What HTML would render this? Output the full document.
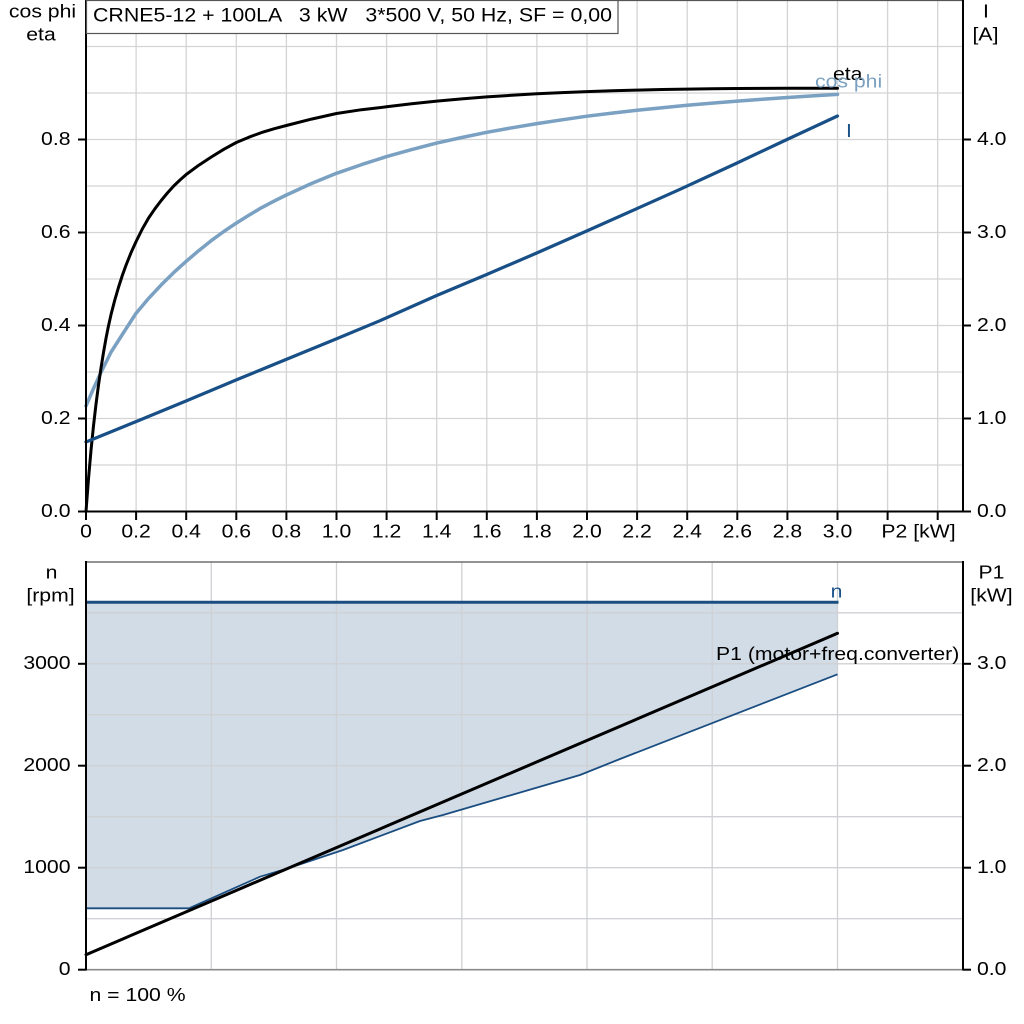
<!DOCTYPE html>
<html>
<head>
<meta charset="utf-8">
<style>
  html,body{margin:0;padding:0;background:#fff;}
  svg{display:block;}
  text{font-family:"Liberation Sans",Arial,sans-serif;font-size:18.6px;fill:#000;}
</style>
</head>
<body>
<svg width="1024" height="1024" viewBox="0 0 1024 1024" xmlns="http://www.w3.org/2000/svg">
  <rect x="0" y="0" width="1024" height="1024" fill="#fff"/>

  <!-- ================= TOP CHART ================= -->
  <g stroke="#d4d4d4" stroke-width="1.3" fill="none">
    <line x1="136.1" y1="0" x2="136.1" y2="511.5"/>
    <line x1="186.2" y1="0" x2="186.2" y2="511.5"/>
    <line x1="236.3" y1="0" x2="236.3" y2="511.5"/>
    <line x1="286.4" y1="0" x2="286.4" y2="511.5"/>
    <line x1="336.5" y1="0" x2="336.5" y2="511.5"/>
    <line x1="386.6" y1="0" x2="386.6" y2="511.5"/>
    <line x1="436.7" y1="0" x2="436.7" y2="511.5"/>
    <line x1="486.8" y1="0" x2="486.8" y2="511.5"/>
    <line x1="536.9" y1="0" x2="536.9" y2="511.5"/>
    <line x1="587" y1="0" x2="587" y2="511.5"/>
    <line x1="637.1" y1="0" x2="637.1" y2="511.5"/>
    <line x1="687.2" y1="0" x2="687.2" y2="511.5"/>
    <line x1="737.3" y1="0" x2="737.3" y2="511.5"/>
    <line x1="787.4" y1="0" x2="787.4" y2="511.5"/>
    <line x1="837.5" y1="0" x2="837.5" y2="511.5"/>
    <line x1="887.6" y1="0" x2="887.6" y2="511.5"/>
    <line x1="937.7" y1="0" x2="937.7" y2="511.5"/>
    <line x1="86" y1="465" x2="963" y2="465"/>
    <line x1="86" y1="418.5" x2="963" y2="418.5"/>
    <line x1="86" y1="372" x2="963" y2="372"/>
    <line x1="86" y1="325.5" x2="963" y2="325.5"/>
    <line x1="86" y1="279" x2="963" y2="279"/>
    <line x1="86" y1="232.5" x2="963" y2="232.5"/>
    <line x1="86" y1="186" x2="963" y2="186"/>
    <line x1="86" y1="139.5" x2="963" y2="139.5"/>
    <line x1="86" y1="93" x2="963" y2="93"/>
    <line x1="86" y1="46.5" x2="963" y2="46.5"/>
  </g>

  <!-- curves -->
  <polyline fill="none" stroke="#7aa0c2" stroke-width="3.5" stroke-linejoin="round" stroke-linecap="round"
    points="86,405.9 93.5,388.5 101,372.4 111.1,352 123.6,332.5 136.1,313.2 148.6,298.4 161.2,284.9 173.7,272.6 186.2,261.3 198.8,250.6 211.3,240.6 223.8,231.5 236.3,223.1 248.9,215.2 261.4,207.8 273.9,201.2 286.4,195 311.5,183.5 336.5,173.3 361.6,164.6 386.6,156.6 411.7,149.6 436.7,143.1 461.8,137.5 486.8,132.3 511.9,127.8 536.9,123.6 562,119.8 587,116.2 612.1,113.1 637.1,110.3 662.2,107.7 687.2,105.3 712.3,103.1 737.3,101.1 762.4,99.2 787.4,97.5 812.5,95.9 837.5,94.4"/>
  <polyline fill="none" stroke="#000" stroke-width="3" stroke-linejoin="round" stroke-linecap="round"
    points="86,511.5 88.5,478.7 91,450.4 93.5,425.8 96,404.2 98.5,385 101,368 103.5,352.5 106,338.4 108.5,325.8 111.1,314.3 114.8,300 118.6,287 122.3,275.5 126.1,265 131.1,252.5 136.1,241.5 142.3,229 148.6,218 154.9,208.8 161.2,200.5 167.4,193 173.7,186 180,180 186.2,174.5 198.8,165.2 211.3,157 223.8,149.3 236.3,142.5 248.9,137.2 261.4,132.6 273.9,128.8 286.4,125.5 311.5,119.1 336.5,113.5 361.6,109.7 386.6,106.8 411.7,103.7 436.7,101.1 461.8,98.9 486.8,96.9 511.9,95.3 536.9,93.8 562,92.6 587,91.6 612.1,90.8 637.1,90.1 662.2,89.5 687.2,89.1 712.3,88.8 737.3,88.5 762.4,88.4 787.4,88.3 837.5,88.2"/>
  <polyline fill="none" stroke="#174f86" stroke-width="3.2" stroke-linejoin="round" stroke-linecap="round"
    points="86,442 136,421.6 186,401 236,380 286,359.5 336,339 380,320.7 436.7,295.5 486.7,274.5 536.7,253 586.7,231 636.7,208.7 680,189.3 736,163.5 787,139.5 837.5,116"/>

  <!-- curve labels -->
  <text transform="translate(833,80) scale(1.14,1)">eta</text>
  <text transform="translate(815,87.5) scale(1.14,1)" style="fill:#7aa0c2">cos phi</text>
  <text transform="translate(846,137) scale(1.14,1)" style="fill:#1c5288">I</text>

  <!-- axes -->
  <line x1="86" y1="0.5" x2="963" y2="0.5" stroke="#555" stroke-width="1.2"/>
  <line x1="86" y1="0" x2="86" y2="512.5" stroke="#000" stroke-width="2"/>
  <line x1="963" y1="0" x2="963" y2="512.5" stroke="#000" stroke-width="2"/>
  <line x1="85" y1="511.5" x2="964" y2="511.5" stroke="#000" stroke-width="2"/>

  <!-- ticks -->
  <g stroke="#000" stroke-width="2">
    <line x1="78" y1="511.5" x2="86" y2="511.5"/>
    <line x1="78" y1="418.5" x2="86" y2="418.5"/>
    <line x1="78" y1="325.5" x2="86" y2="325.5"/>
    <line x1="78" y1="232.5" x2="86" y2="232.5"/>
    <line x1="78" y1="139.5" x2="86" y2="139.5"/>
    <line x1="963" y1="511.5" x2="971" y2="511.5"/>
    <line x1="963" y1="418.5" x2="971" y2="418.5"/>
    <line x1="963" y1="325.5" x2="971" y2="325.5"/>
    <line x1="963" y1="232.5" x2="971" y2="232.5"/>
    <line x1="963" y1="139.5" x2="971" y2="139.5"/>
    <line x1="86" y1="511.5" x2="86" y2="520"/>
    <line x1="136.1" y1="511.5" x2="136.1" y2="520"/>
    <line x1="186.2" y1="511.5" x2="186.2" y2="520"/>
    <line x1="236.3" y1="511.5" x2="236.3" y2="520"/>
    <line x1="286.4" y1="511.5" x2="286.4" y2="520"/>
    <line x1="336.5" y1="511.5" x2="336.5" y2="520"/>
    <line x1="386.6" y1="511.5" x2="386.6" y2="520"/>
    <line x1="436.7" y1="511.5" x2="436.7" y2="520"/>
    <line x1="486.8" y1="511.5" x2="486.8" y2="520"/>
    <line x1="536.9" y1="511.5" x2="536.9" y2="520"/>
    <line x1="587" y1="511.5" x2="587" y2="520"/>
    <line x1="637.1" y1="511.5" x2="637.1" y2="520"/>
    <line x1="687.2" y1="511.5" x2="687.2" y2="520"/>
    <line x1="737.3" y1="511.5" x2="737.3" y2="520"/>
    <line x1="787.4" y1="511.5" x2="787.4" y2="520"/>
    <line x1="837.5" y1="511.5" x2="837.5" y2="520"/>
    <line x1="887.6" y1="511.5" x2="887.6" y2="520"/>
    <line x1="937.7" y1="511.5" x2="937.7" y2="520"/>
  </g>

  <g text-anchor="end">
    <text transform="translate(70.5,517) scale(1.14,1)">0.0</text>
    <text transform="translate(70.5,424) scale(1.14,1)">0.2</text>
    <text transform="translate(70.5,331) scale(1.14,1)">0.4</text>
    <text transform="translate(70.5,238) scale(1.14,1)">0.6</text>
    <text transform="translate(70.5,145) scale(1.14,1)">0.8</text>
  </g>
  <g>
    <text transform="translate(977,517) scale(1.14,1)">0.0</text>
    <text transform="translate(977,424) scale(1.14,1)">1.0</text>
    <text transform="translate(977,331) scale(1.14,1)">2.0</text>
    <text transform="translate(977,238) scale(1.14,1)">3.0</text>
    <text transform="translate(977,145) scale(1.14,1)">4.0</text>
  </g>
  <g text-anchor="middle">
    <text transform="translate(86,537.5) scale(1.14,1)">0</text>
    <text transform="translate(136.1,537.5) scale(1.14,1)">0.2</text>
    <text transform="translate(186.2,537.5) scale(1.14,1)">0.4</text>
    <text transform="translate(236.3,537.5) scale(1.14,1)">0.6</text>
    <text transform="translate(286.4,537.5) scale(1.14,1)">0.8</text>
    <text transform="translate(336.5,537.5) scale(1.14,1)">1.0</text>
    <text transform="translate(386.6,537.5) scale(1.14,1)">1.2</text>
    <text transform="translate(436.7,537.5) scale(1.14,1)">1.4</text>
    <text transform="translate(486.8,537.5) scale(1.14,1)">1.6</text>
    <text transform="translate(536.9,537.5) scale(1.14,1)">1.8</text>
    <text transform="translate(587,537.5) scale(1.14,1)">2.0</text>
    <text transform="translate(637.1,537.5) scale(1.14,1)">2.2</text>
    <text transform="translate(687.2,537.5) scale(1.14,1)">2.4</text>
    <text transform="translate(737.3,537.5) scale(1.14,1)">2.6</text>
    <text transform="translate(787.4,537.5) scale(1.14,1)">2.8</text>
    <text transform="translate(837.5,537.5) scale(1.14,1)">3.0</text>
    <text transform="translate(918.5,537.5) scale(1.14,1)">P2 [kW]</text>
  </g>

  <g text-anchor="middle">
    <text transform="translate(42.5,17.5) scale(1.14,1)">cos phi</text>
    <text transform="translate(41,40.5) scale(1.14,1)">eta</text>
    <text transform="translate(986,17.5) scale(1.14,1)">I</text>
    <text transform="translate(985.5,40.5) scale(1.14,1)">[A]</text>
  </g>

  <!-- title box -->
  <rect x="86.5" y="0.5" width="531.5" height="33" fill="#fff" stroke="#555" stroke-width="1.2"/>
  <text x="93" y="21.5" style="font-size:19.5px;white-space:pre" xml:space="preserve" textLength="519" lengthAdjust="spacingAndGlyphs">CRNE5-12 + 100LA   3 kW   3*500 V, 50 Hz, SF = 0,00</text>

  <!-- ================= BOTTOM CHART ================= -->
  <polygon fill="#d1dce7" stroke="none"
    points="86,602.3 837.5,602.3 837.5,674.3 620,759 580,775 443,815 420,821 343,850 313,860 290,867.7 260,876.7 189,908.3 86,908.3"/>

  <g stroke="#cfd1d4" stroke-width="1.3" fill="none">
    <line x1="211.3" y1="562" x2="211.3" y2="969.7"/>
    <line x1="336.5" y1="562" x2="336.5" y2="969.7"/>
    <line x1="461.8" y1="562" x2="461.8" y2="969.7"/>
    <line x1="587" y1="562" x2="587" y2="969.7"/>
    <line x1="712.2" y1="562" x2="712.2" y2="969.7"/>
    <line x1="837.5" y1="562" x2="837.5" y2="969.7"/>
    <line x1="86" y1="918.7" x2="963" y2="918.7"/>
    <line x1="86" y1="867.7" x2="963" y2="867.7"/>
    <line x1="86" y1="816.7" x2="963" y2="816.7"/>
    <line x1="86" y1="765.7" x2="963" y2="765.7"/>
    <line x1="86" y1="714.7" x2="963" y2="714.7"/>
    <line x1="86" y1="663.8" x2="963" y2="663.8"/>
    <line x1="86" y1="612.8" x2="963" y2="612.8"/>
  </g>

  <polyline fill="none" stroke="#1a4d80" stroke-width="1.8" stroke-linejoin="round"
    points="86,908.3 189,908.3 260,876.7 290,867.7 313,860 343,850 420,821 443,815 580,775 620,759 837.5,674.3"/>
  <line x1="86" y1="602.3" x2="838.5" y2="602.3" stroke="#1a4d80" stroke-width="3"/>
  <line x1="86" y1="954.7" x2="837.5" y2="633.3" stroke="#000" stroke-width="3" stroke-linecap="round"/>

  <text transform="translate(836.5,597.5) scale(1.14,1)" text-anchor="middle" style="fill:#1c5288">n</text>
  <text transform="translate(716,660) scale(1.14,1)">P1 (motor+freq.converter)</text>

  <line x1="86" y1="562" x2="963" y2="562" stroke="#6e6e6e" stroke-width="1.6"/>
  <line x1="86" y1="969.7" x2="963" y2="969.7" stroke="#8a8a8a" stroke-width="1.6"/>
  <line x1="86" y1="561" x2="86" y2="970.5" stroke="#000" stroke-width="2"/>
  <line x1="963" y1="561" x2="963" y2="970.5" stroke="#000" stroke-width="2"/>

  <g stroke="#000" stroke-width="2">
    <line x1="78" y1="969.7" x2="86" y2="969.7"/>
    <line x1="78" y1="867.7" x2="86" y2="867.7"/>
    <line x1="78" y1="765.7" x2="86" y2="765.7"/>
    <line x1="78" y1="663.8" x2="86" y2="663.8"/>
    <line x1="963" y1="969.7" x2="971" y2="969.7"/>
    <line x1="963" y1="867.7" x2="971" y2="867.7"/>
    <line x1="963" y1="765.7" x2="971" y2="765.7"/>
    <line x1="963" y1="663.8" x2="971" y2="663.8"/>
  </g>

  <g text-anchor="end">
    <text transform="translate(70.5,975) scale(1.14,1)">0</text>
    <text transform="translate(70.5,873) scale(1.14,1)">1000</text>
    <text transform="translate(70.5,771) scale(1.14,1)">2000</text>
    <text transform="translate(70.5,669) scale(1.14,1)">3000</text>
  </g>
  <g>
    <text transform="translate(977,975) scale(1.14,1)">0.0</text>
    <text transform="translate(977,873) scale(1.14,1)">1.0</text>
    <text transform="translate(977,771) scale(1.14,1)">2.0</text>
    <text transform="translate(977,669) scale(1.14,1)">3.0</text>
  </g>

  <g text-anchor="middle">
    <text transform="translate(51.5,578.5) scale(1.14,1)">n</text>
    <text transform="translate(50.5,601.5) scale(1.14,1)">[rpm]</text>
    <text transform="translate(991.5,578.5) scale(1.14,1)">P1</text>
    <text transform="translate(991.5,601.5) scale(1.14,1)">[kW]</text>
  </g>

  <text transform="translate(89.5,1001) scale(1.14,1)">n = 100 %</text>
</svg>
</body>
</html>
